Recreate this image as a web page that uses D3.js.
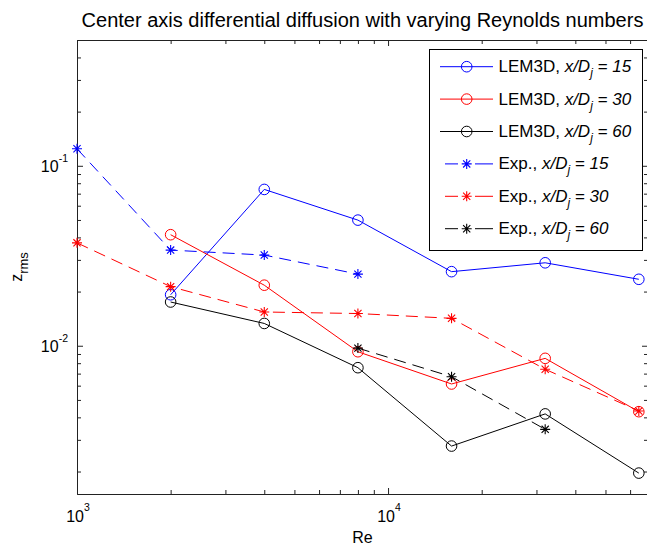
<!DOCTYPE html>
<html>
<head>
<meta charset="utf-8">
<script src="https://cdn.jsdelivr.net/npm/d3@7"></script>
<style>
  html, body { margin: 0; padding: 0; background: #fff; }
  text { font-family: "Liberation Sans", Arial, Helvetica, sans-serif; fill: #000; }
</style>
</head>
<body>
<script>
// Reynolds numbers of the simulation runs and the measurements
const lemRe = [2000, 4000, 8000, 16000, 32000, 64000];
const lem15 = [0.0192, 0.0739, 0.0499, 0.0258, 0.0289, 0.0234];
const lem30 = [0.0414, 0.0217, 0.00926, 0.00613, 0.00851, 0.0043];
const lem60 = [0.0175, 0.0133, 0.00755, 0.00277, 0.00418, 0.00196];

const exp15Re = [1000, 2000, 4000, 8000];
const exp15 = [0.1243, 0.034, 0.0319, 0.025];
const exp30Re = [1000, 2000, 4000, 8000, 16000, 32000, 64000];
const exp30 = [0.0373, 0.0213, 0.0154, 0.0151, 0.0142, 0.0074, 0.00434];
const exp60Re = [8000, 16000, 32000];
const exp60 = [0.0097, 0.00673, 0.00343];

// Tick values and their exponent labels
const xMajor = [1000, 10000];
const xMajorExp = ["3", "4"];
const xMinor = [2000, 3000, 4000, 5000, 6000, 7000, 8000, 9000, 20000, 30000, 40000, 50000, 60000];
const yMajor = [0.01, 0.1];
const yMajorExp = ["-2", "-1"];
const yMinor = [0.002, 0.003, 0.004, 0.005, 0.006, 0.007, 0.008, 0.009,
                0.02, 0.03, 0.04, 0.05, 0.06, 0.07, 0.08, 0.09, 0.2, 0.3, 0.4];

const legendLabels = ["LEM3D, ", "LEM3D, ", "LEM3D, ", "Exp., ", "Exp., ", "Exp., "];
const legendDist = ["15", "30", "60", "15", "30", "60"];

const W = 647, H = 545;
const plot = { left: 77, right: 648, top: 40, bottom: 494 };

const svg = d3.select("body").append("svg")
  .attr("width", W).attr("height", H)
  .style("display", "block");
svg.append("rect").attr("width", W).attr("height", H).attr("fill", "#fff");

const x = d3.scaleLog().domain([1000, 68500]).range([plot.left, plot.right]);
const y = d3.scaleLog().domain([0.0015, 0.5]).range([plot.bottom, plot.top]);

// Axes: inward ticks on all four sides, long for decades, short for minor
const axisColor = "#222";
function drawAxis(gen, tx, ty, values, size) {
  const g = svg.append("g").attr("transform", `translate(${tx},${ty})`)
    .call(gen(size === 6 ? (size) : size).tickValues(values).tickSize(-size).tickSizeOuter(0).tickFormat(""));
  g.select(".domain").attr("stroke", axisColor);
  g.selectAll(".tick line").attr("stroke", axisColor);
  return g;
}
[[d3.axisBottom, x, 0, plot.bottom], [d3.axisTop, x, 0, plot.top]].forEach(([a, s, tx, ty]) => {
  drawAxis(() => a(s), tx, ty, xMajor, 6);
  drawAxis(() => a(s), tx, ty, xMinor, 4);
});
[[d3.axisLeft, y, plot.left, 0], [d3.axisRight, y, plot.right, 0]].forEach(([a, s, tx, ty]) => {
  drawAxis(() => a(s), tx, ty, yMajor, 6);
  drawAxis(() => a(s), tx, ty, yMinor, 4);
});

// Decade labels as 10 with a raised exponent
xMajor.forEach((v, i) => {
  const t = svg.append("text")
    .attr("x", x(v) + 1).attr("y", plot.bottom + 28)
    .attr("text-anchor", "middle").attr("font-size", 16);
  t.append("tspan").text("10");
  t.append("tspan").attr("font-size", 10.5).attr("dy", -11.5).text(xMajorExp[i]);
});
yMajor.forEach((v, i) => {
  const t = svg.append("text")
    .attr("x", plot.left - 9).attr("y", y(v) + 6.5)
    .attr("text-anchor", "end").attr("font-size", 16);
  t.append("tspan").text("10");
  t.append("tspan").attr("font-size", 10.5).attr("dy", -10).text(yMajorExp[i]);
});

// Axis titles
svg.append("text")
  .attr("x", (plot.left + plot.right) / 2).attr("y", plot.bottom + 49)
  .attr("text-anchor", "middle").attr("font-size", 16).text("Re");
const yl = svg.append("text")
  .attr("transform", `translate(22,${(plot.top + plot.bottom) / 2}) rotate(-90)`)
  .attr("text-anchor", "middle").attr("font-size", 16);
yl.append("tspan").text("z");
yl.append("tspan").attr("font-size", 13).attr("dy", 6).text("rms");

svg.append("text")
  .attr("x", (plot.left + plot.right) / 2).attr("y", 27)
  .attr("text-anchor", "middle").attr("font-size", 20)
  .text("Center axis differential diffusion with varying Reynolds numbers");

// Series
const starPath = "M-5,0H5M0,-5V5M-3.6,-3.6L3.6,3.6M-3.6,3.6L3.6,-3.6";
const series = [
  { re: lemRe, v: lem15, color: "#0000ff", dash: null, marker: "o" },
  { re: lemRe, v: lem30, color: "#ff0000", dash: null, marker: "o" },
  { re: lemRe, v: lem60, color: "#000000", dash: null, marker: "o" },
  { re: exp15Re, v: exp15, color: "#0000ff", dash: "12,7", marker: "*" },
  { re: exp30Re, v: exp30, color: "#ff0000", dash: "12,7", marker: "*" },
  { re: exp60Re, v: exp60, color: "#000000", dash: "12,7", marker: "*" }
];

const line = d3.line().x(d => x(d[0])).y(d => y(d[1]));
const plotG = svg.append("g");

function drawMarker(g, type, cx, cy, color) {
  if (type === "o") {
    g.append("circle").attr("cx", cx).attr("cy", cy).attr("r", 5.3)
      .attr("fill", "none").attr("stroke", color).attr("stroke-width", 1);
  } else {
    g.append("path").attr("d", starPath).attr("transform", `translate(${cx},${cy})`)
      .attr("fill", "none").attr("stroke", color).attr("stroke-width", 1.1);
  }
}

series.forEach(s => {
  const pts = s.re.map((r, i) => [r, s.v[i]]);
  plotG.append("path").datum(pts).attr("d", line)
    .attr("fill", "none").attr("stroke", s.color).attr("stroke-width", 1)
    .attr("stroke-dasharray", s.dash);
  pts.forEach(p => drawMarker(plotG, s.marker, x(p[0]), y(p[1]), s.color));
});

// Legend
const lg = svg.append("g");
lg.append("rect").attr("x", 429.5).attr("y", 49.5).attr("width", 213).attr("height", 201)
  .attr("fill", "#fff").attr("stroke", "#000").attr("stroke-width", 1);
series.forEach((s, i) => {
  const ry = 66.7 + i * 32.4;
  if (s.dash) {
    lg.append("line").attr("x1", 445).attr("x2", 493).attr("y1", ry).attr("y2", ry)
      .attr("stroke", s.color).attr("stroke-dasharray", "13,17,18");
  } else {
    lg.append("line").attr("x1", 440).attr("x2", 493).attr("y1", ry).attr("y2", ry)
      .attr("stroke", s.color);
  }
  drawMarker(lg, s.marker, 466.7, ry, s.color);
  const t = lg.append("text").attr("x", 498.5).attr("y", ry + 5.5).attr("font-size", 17);
  t.append("tspan").text(legendLabels[i]);
  t.append("tspan").attr("font-style", "italic").text("x/D");
  t.append("tspan").attr("font-style", "italic").attr("font-size", 12).attr("dy", 5).text("j");
  t.append("tspan").attr("font-style", "italic").attr("dy", -5).text(" = " + legendDist[i]);
});
</script>
</body>
</html>
